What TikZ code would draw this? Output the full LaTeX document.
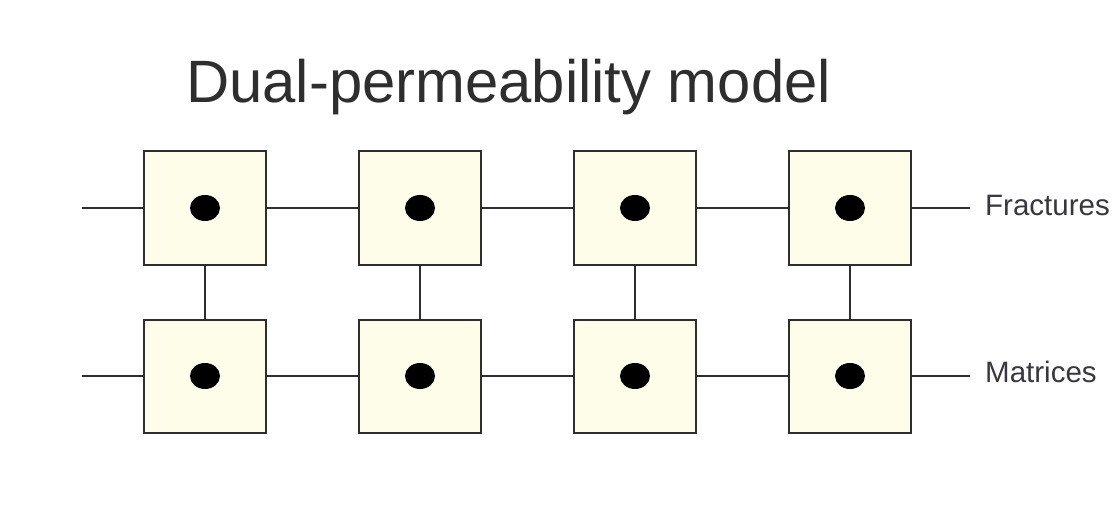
\documentclass[tikz,border=0pt]{standalone}
\usepackage{fontspec}
\setmainfont{Liberation Sans}
\usetikzlibrary{shapes.geometric}
\definecolor{ink}{HTML}{2E2E2E}
\definecolor{cellfill}{HTML}{FDFDEA}
\definecolor{labelink}{HTML}{3A3640}
\tikzset{
  cell/.style={draw=ink, line width=2pt, fill=cellfill, minimum width=122pt, minimum height=113pt, inner sep=0pt},
  link/.style={draw=ink, line width=1.8pt},
  core/.style={ellipse, fill=black, minimum width=30pt, minimum height=26pt, inner sep=0pt},
  tag/.style={anchor=west, inner sep=0pt, text=labelink, font=\fontsize{29.5}{32}\selectfont}
}
\begin{document}
\begin{tikzpicture}[x=1pt,y=-1pt]
  \fill[white] (0,0) rectangle (1118,529);
  \useasboundingbox (0,0) rectangle (1118,529);

  \node[anchor=base west, inner sep=0pt, text=ink, font=\fontsize{59.8}{66}\selectfont] (title) at (186,103) {Dual-permeability model};

  % two rows of cells: fractures (top) and matrices (bottom)
  \foreach \i/\x in {1/205,2/420,3/635,4/850} {
    \node[cell] (f\i) at (\x,208) {};
    \node[core] at (f\i) {};
    \node[cell] (m\i) at (\x,376) {};
    \node[core] at (m\i) {};
    \draw[link] (f\i.south) -- (m\i.north);
  }

  \coordinate (fl) at (82,208);
  \coordinate (ml) at (82,376);
  \coordinate (fr) at (970,208);
  \coordinate (mr) at (970,376);

  \draw[link] (fl) -- (f1.west);
  \draw[link] (ml) -- (m1.west);
  \foreach \a/\b in {1/2,2/3,3/4} {
    \draw[link] (f\a.east) -- (f\b.west);
    \draw[link] (m\a.east) -- (m\b.west);
  }
  \draw[link] (f4.east) -- (fr);
  \draw[link] (m4.east) -- (mr);

  \node[tag] (ftag) at (985,205) {Fractures};
  \node[tag] (mtag) at (985,372) {Matrices};
\end{tikzpicture}
\end{document}
